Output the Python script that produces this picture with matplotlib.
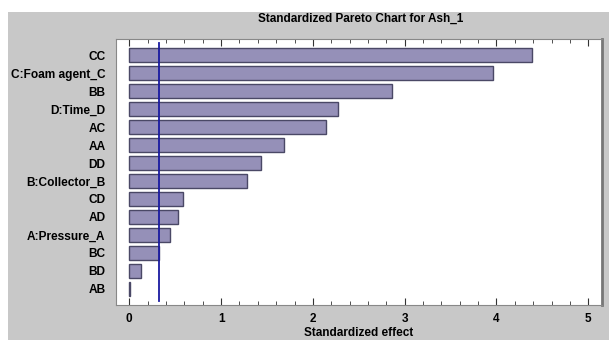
import numpy as np
import matplotlib.pyplot as plt
from matplotlib.patches import Rectangle
from matplotlib.ticker import MultipleLocator

plt.rcParams['font.family'] = ['Liberation Sans', 'DejaVu Sans']

# standardized effects, largest first
terms = ["CC", "C:Foam agent_C", "BB", "D:Time_D", "AC", "AA", "DD",
         "B:Collector_B", "CD", "AD", "A:Pressure_A", "BC", "BD", "AB"]
effects = [4.39, 3.96, 2.86, 2.27, 2.14, 1.69, 1.43,
           1.28, 0.59, 0.53, 0.44, 0.32, 0.124, 0.01]
critical = 0.32

W, H = 609, 340
fig = plt.figure(figsize=(W / 100, H / 100), dpi=100)
fig.patch.set_facecolor("white")
fig.patches.append(Rectangle((8 / W, 0), 1 - 8 / W, (H - 12) / H,
                             transform=fig.transFigure, facecolor="#c8c8c8",
                             edgecolor="none", zorder=-5))

ax = fig.add_axes([116 / W, (H - 305) / H, (602 - 116) / W, (305 - 39) / H])
ax.set_facecolor("white")

ypos = np.arange(len(terms))
ax.barh(ypos, effects, height=0.78, color="#9590b8", edgecolor="#4a4866",
        linewidth=1.0, zorder=2)
ax.axvline(critical, color="#1a1aa0", linewidth=1.3, zorder=3,
           ymin=0.015, ymax=0.985)

ax.set_xlim(-0.145, 5.15)
ax.set_ylim(len(terms) - 1 + 0.89, -0.89)
ax.set_yticks(ypos)
ax.set_yticklabels(terms, fontsize=8.6, fontweight="bold")
ax.tick_params(axis="y", length=0, pad=7.5)

ax.xaxis.set_major_locator(MultipleLocator(1))
ax.xaxis.set_minor_locator(MultipleLocator(0.2))
ax.tick_params(axis="x", which="both", direction="in", top=True,
               labelsize=8.5, color="#333333", pad=6)
ax.tick_params(axis="x", which="major", length=5)
ax.tick_params(axis="x", which="minor", length=3)
for lbl in ax.get_xticklabels():
    lbl.set_fontweight("bold")

for side in ["top", "left", "bottom"]:
    ax.spines[side].set_color("#888888")
ax.spines["right"].set_color("#777777")
ax.spines["right"].set_linewidth(2)

ax.set_xlabel("Standardized effect", fontsize=8.5, fontweight="bold", labelpad=1.5)
fig.text(361 / W, 1 - 19 / H, "Standardized Pareto Chart for Ash_1",
         ha="center", va="center", fontsize=8.5, fontweight="bold")

fig.savefig("out.png", dpi=100)
